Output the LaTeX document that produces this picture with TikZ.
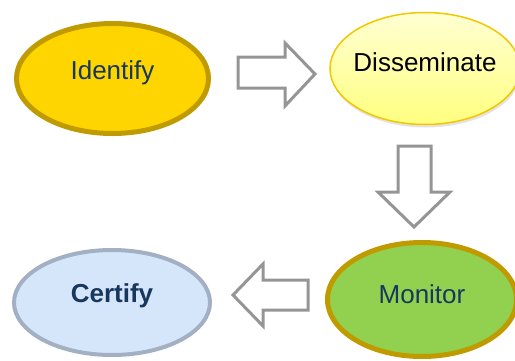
\documentclass[tikz,border=0pt]{standalone}
\usepackage{fontspec}
\setmainfont{Liberation Sans}
\usetikzlibrary{shapes.geometric,shadows}
\definecolor{gold}{HTML}{FFD500}
\definecolor{goldline}{HTML}{BF9B00}
\definecolor{dissline}{HTML}{F2C700}
\definecolor{disstop}{HTML}{FFFFD2}
\definecolor{dissbot}{HTML}{FFFF80}
\definecolor{green}{HTML}{92D050}
\definecolor{certfill}{HTML}{D5E6FB}
\definecolor{certline}{HTML}{A3AFC2}
\definecolor{navy}{HTML}{17375E}
\definecolor{arrowgray}{HTML}{959595}
\tikzset{
  blob/.style={ellipse, inner sep=0pt},
  lbl/.style={font=\fontsize{26}{30}\selectfont, inner sep=0pt, anchor=center},
  blockarrow/.style={draw=arrowgray, fill=white, line width=3pt, line join=miter},
}
\begin{document}
\begin{tikzpicture}[x=1pt,y=-1pt]
\useasboundingbox (0,0) rectangle (515,360);
% ellipses
\node[blob, fill=gold, draw=goldline, line width=5pt, minimum width=192pt, minimum height=110pt] (identify) at (112.5,78.5) {};
\node[blob, top color=disstop, bottom color=dissbot, draw=dissline, line width=1.5pt,
      minimum width=190pt, minimum height=112pt,
      drop shadow={opacity=0.22, shadow xshift=1pt, shadow yshift=-3pt}] (dissem) at (425,68.5) {};
\node[blob, fill=green, draw=goldline, line width=5pt, minimum width=189pt, minimum height=114pt] (monitor) at (422,299.5) {};
\node[blob, fill=certfill, draw=certline, line width=4pt, minimum width=196pt, minimum height=105pt] (certify) at (112,302.5) {};
% labels
\node[lbl, text=navy] (tidentify) at ([yshift=6pt]identify.center) {Identify};
\node[lbl, text=black] (tdissem) at ([yshift=6pt]dissem.center) {Disseminate};
\node[lbl, text=navy] (tmonitor) at ([yshift=5pt]monitor.center) {Monitor};
\node[lbl, text=navy, font=\fontsize{26}{30}\selectfont\bfseries] (tcertify) at ([yshift=7pt]certify.center) {Certify};
% block arrows
\draw[blockarrow] (238,57) -- (285,57) -- (285,43) -- (315,74) -- (285,106) -- (285,88) -- (238,88) -- cycle;
\draw[blockarrow] (398,146) -- (431,146) -- (431,192) -- (450,192) -- (414,227) -- (378,192) -- (398,192) -- cycle;
\draw[blockarrow] (308,280) -- (263,280) -- (263,264) -- (233,295) -- (263,326) -- (263,310) -- (308,310) -- cycle;
\end{tikzpicture}
\end{document}
